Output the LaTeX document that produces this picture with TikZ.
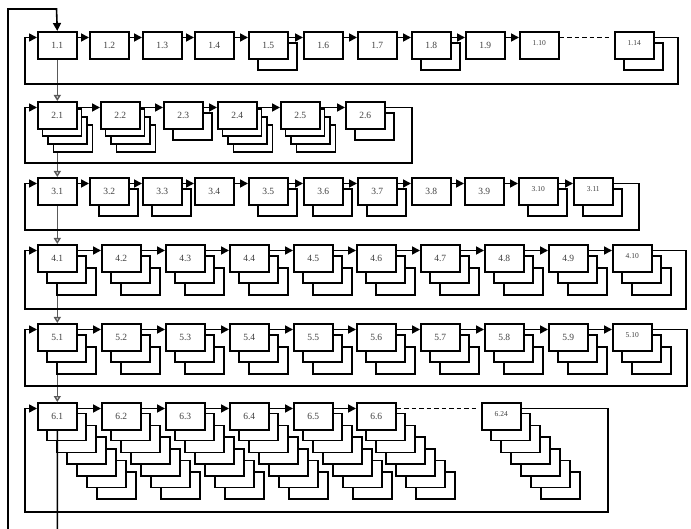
\documentclass[tikz,border=0pt]{standalone}
\usepackage{fontspec}
\setmainfont{Liberation Serif}
\usetikzlibrary{arrows.meta,backgrounds}
\newcommand\sm[1]{{\fontsize{7.5}{9}\selectfont\raisebox{2.5pt}[\height][\depth]{#1}}}
\tikzset{
  stage/.style={draw=black,fill=white,line width=1.6pt,minimum width=39pt,
    minimum height=27pt,inner sep=0pt,anchor=north west,text=black!75,
    font=\fontsize{9.5}{10}\selectfont},
  copybox/.style={draw=black,fill=white,line width=1.5pt},
  flow/.style={line width=1.7pt,-{Triangle[length=8pt,width=8pt]}},
  loopback/.style={line width=1.6pt,-{Triangle[length=8pt,width=8pt]}},
  nextrow/.style={line width=1.4pt,black!65,
    -{Triangle[length=6pt,width=7pt,fill=white]}},
  gap/.style={line width=1.5pt,dash pattern=on 4.5pt off 3pt,shorten >=5pt},
}

\begin{document}
\begin{tikzpicture}[x=1pt,y=-1pt]
  \useasboundingbox (0,0) rectangle (691,529);
  % row 1
  \foreach \n/\t/\x/\s in {11/1.1/37/0,12/1.2/89/0,13/1.3/142/0,14/1.4/194/0,
      15/1.5/248/1,16/1.6/303/0,17/1.7/357/0,18/1.8/411/1,19/1.9/465/0,
      110/{\sm{1.10}}/519/0,114/{\sm{1.14}}/614/1}{
    \ifnum\s>0 \foreach \k in {\s,...,1}{
      \draw[copybox] (\x+10*\k,31+12*\k) rectangle ++(39,27);}\fi
    \node[stage] (b\n) at (\x,31) {\t};}
  % row 2
  \foreach \n/\t/\x/\s/\dx/\dy in {21/2.1/37/3/5.5/8,22/2.2/100/3/5.5/8,
      23/2.3/163/1/10/12,24/2.4/217/3/5.5/8,25/2.5/280/3/5.5/8,
      26/2.6/345/1/10/12}{
    \foreach \k in {\s,...,1}{
      \draw[copybox] (\x+\dx*\k,101+\dy*\k) rectangle ++(39,27);}
    \node[stage] (b\n) at (\x,101) {\t};}
  % row 3
  \foreach \n/\t/\x/\s in {31/3.1/37/0,32/3.2/89/1,33/3.3/142/1,34/3.4/194/0,
      35/3.5/248/1,36/3.6/303/1,37/3.7/357/1,38/3.8/411/0,39/3.9/464/0,
      310/{\sm{3.10}}/518/1,311/{\sm{3.11}}/573/1}{
    \ifnum\s>0 \draw[copybox] (\x+10,177+12) rectangle ++(39,27);\fi
    \node[stage] (b\n) at (\x,177) {\t};}
  % rows 4 and 5, two copies behind each stage
  \foreach \r/\y in {4/244,5/323}{
    \foreach \i/\x in {1/37,2/101,3/165,4/229,5/293,6/356,7/420,8/484,9/548}{
      \foreach \k in {2,1}{
        \draw[copybox] (\x+10*\k,\y+12*\k) rectangle ++(39,27);}
      \node[stage] (b\r\i) at (\x,\y) {\r.\i};}
    \foreach \k in {2,1}{
      \draw[copybox] (612+10*\k,\y+12*\k) rectangle ++(39,27);}
    \node[stage] (b\r10) at (612,\y) {\sm{\r.10}};}
  % row 6, six copies behind each stage
  \foreach \n/\t/\x in {61/6.1/37,62/6.2/101,63/6.3/165,64/6.4/229,
      65/6.5/293,66/6.6/356,624/{\sm{6.24}}/481}{
    \foreach \k in {6,...,1}{
      \draw[copybox] (\x+10*\k,402+11.7*\k) rectangle ++(39,27);}
    \node[stage] (b\n) at (\x,402) {\t};}

  \begin{scope}[on background layer]
  \foreach \r/\m in {1/9,2/5,3/10,4/9,5/9,6/5}{
    \foreach \i [evaluate=\i as \j using int(\i+1)] in {1,...,\m}{
      \draw[flow] ([yshift=-6.5pt]b\r\i.north east)
        -- ([yshift=-6.5pt]b\r\j.north west);}}
  \draw[gap] ([yshift=-6.5pt]b110.north east) -- ([yshift=-6.5pt]b114.north west);
  \draw[gap] ([yshift=-6.5pt]b66.north east) -- ([yshift=-6.5pt]b624.north west);
  \foreach \a/\b in {1/2,2/3,3/4,4/5,5/6}
    \draw[nextrow] (b\a1.south) -- (b\b1.north);
  \foreach \f/\l/\rx/\by in {1/114/678/84,2/26/412/163,3/311/639/230,
      4/410/686/309,5/510/687/386,6/624/608/512}
    \draw[loopback] ([yshift=-6.5pt]b\l.north east) -| (\rx,\by) -- (25,\by)
      |- ([yshift=-6.5pt]b\f1.north west);
  \end{scope}
  % way back from the last row to the first
  \draw[loopback] (b61.south) |- (8,545) |- (56.5,9) -- (b11.north);
\end{tikzpicture}
\end{document}
